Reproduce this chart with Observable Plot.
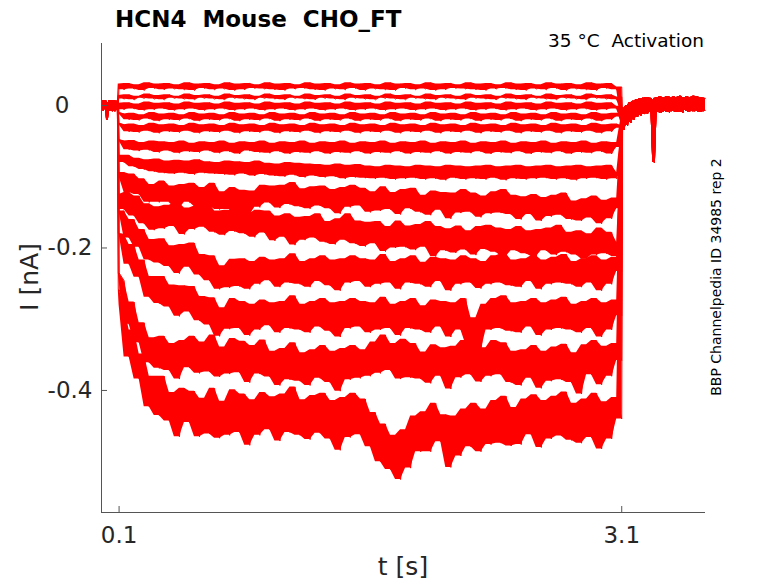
<!DOCTYPE html>
<html><head><meta charset="utf-8">
<script src="https://cdn.jsdelivr.net/npm/d3@7"></script>
<script src="https://cdn.jsdelivr.net/npm/@observablehq/plot@0.6"></script>
<style>body{margin:0;background:#fff;} svg text{font-family:"DejaVu Sans";}</style>
</head><body><div id="chart"></div>
<script>
// ---- text ----
const titleText = "HCN4  Mouse  CHO_FT";
const subtitleText = "35 °C  Activation";
const sideText = "BBP Channelpedia ID 34985 rep 2";
const xLabel = "t [s]";
const yLabel = "I [nA]";
const xTickValues = [0.1, 3.1];
const xTickLabels = ["0.1", "3.1"];
const yTickValues = [-0.4, -0.2, 0];
const yTickLabels = ["-0.4", "-0.2", "0"];
const xDomain = [-0.005, 3.6];
const yDomain = [-0.5713, 0.087];

// ---- sampling (s) ----
const stepStart = 0.1, stepDt = 0.03;          // voltage step 0.1 s .. 3.1 s
const preTimes = d3.range(20).map(i => i * 0.005);
const postTimes = d3.range(50).map(i => 3.105 + i * 0.01);

// ---- holding current before / after the step (pA) ----
const holdPreA = [3,-7,5,-5,7,-6,-20,-9,4,-7,6,-4,7,-6,4,-8,5,-5,6,-4];
const holdPreB = [-5,7,-4,6,-6,5,-12,3,-7,7,-5,5,-8,6,-4,7,-6,4,-7,5];
const holdPostA = [-28,-4,-25,0,-20,4,-16,6,-13,8,
  -11,9,-10,10,-11,11,-9,10,-10,-80,
  -8,11,-10,12,-9,11,-8,12,-10,10,
  -7,12,-9,11,-8,13,-10,11,-7,12,
  -9,11,-8,13,-7,12,-9,11,-8,10];
const holdPostB = [-12,-34,-10,-28,-8,-24,-5,-20,-2,-16,
  2,-14,4,-12,6,-11,8,-10,7,-9,
  10,-8,9,-10,11,-7,10,-9,12,-8,
  10,-7,11,-9,12,-8,10,-6,11,-8,
  9,-7,12,-8,10,-6,11,-9,10,-7];

// ---- step currents (pA), one array per sweep, sampled every 30 ms ----
const sweep1 = [30,22,31,23,29,21,32,24,30,22,
 31,23,29,22,32,21,30,24,31,22,
 29,23,32,21,30,22,31,24,29,23,
 32,22,30,21,31,23,29,24,32,22,
 30,21,31,23,29,22,32,24,30,21,
 31,23,29,22,32,21,30,24,31,22,
 29,23,32,21,30,22,31,24,29,23,
 32,22,30,21,31,23,29,24,32,22,
 30,21,31,23,29,22,32,24,30,21,
 31,23,29,22,32,21,30,24,31,22,26];
const sweep2 = [14,9,15,8,13,10,16,9,14,8,
 15,10,13,9,16,8,14,10,15,9,
 13,8,16,10,14,9,15,8,13,10,
 16,9,14,8,15,10,13,9,16,8,
 14,10,15,9,13,8,16,10,14,9,
 15,8,13,10,16,9,14,8,15,10,
 13,9,16,8,14,10,15,9,13,8,
 16,10,14,9,15,8,13,10,16,9,
 14,8,15,10,13,9,16,8,14,10,
 15,9,13,8,16,10,14,9,15,8,12];
const sweep3 = [3,-6,4,-5,2,-7,5,-6,3,-5,
 4,-7,2,-6,5,-5,3,-7,4,-6,
 2,-5,5,-7,3,-6,4,-5,2,-7,
 5,-6,3,-5,4,-7,2,-6,5,-5,
 3,-7,4,-6,2,-5,5,-7,3,-6,
 4,-5,2,-7,5,-6,3,-5,4,-7,
 2,-6,5,-5,3,-7,4,-6,2,-5,
 5,-7,3,-6,4,-5,2,-7,5,-6,
 3,-5,4,-7,2,-6,5,-5,3,-7,
 4,-6,2,-5,5,-7,3,-6,4,-5,-1];
const sweep4 = [-10,-12,-20,-11,-21,-13,-19,-10,-22,-12,
 -20,-11,-21,-13,-19,-10,-22,-12,-20,-11,
 -21,-13,-19,-10,-22,-12,-20,-11,-21,-13,
 -19,-10,-22,-12,-20,-11,-21,-13,-19,-10,
 -22,-12,-20,-11,-21,-13,-19,-10,-22,-12,
 -20,-11,-21,-13,-19,-10,-22,-12,-20,-11,
 -21,-13,-19,-10,-22,-12,-20,-11,-21,-13,
 -19,-10,-22,-12,-20,-11,-21,-13,-19,-10,
 -22,-12,-20,-11,-21,-13,-19,-10,-22,-12,
 -20,-11,-21,-13,-19,-10,-22,-12,-20,-11,-16];
const sweep5 = [-25,-27,-37,-26,-38,-28,-36,-25,-39,-27,
 -37,-26,-38,-28,-36,-25,-39,-27,-37,-26,
 -38,-28,-36,-25,-39,-27,-37,-26,-38,-28,
 -36,-25,-39,-27,-37,-26,-38,-28,-36,-25,
 -39,-27,-37,-26,-38,-28,-36,-25,-39,-27,
 -37,-26,-38,-28,-36,-25,-39,-27,-37,-26,
 -38,-28,-36,-25,-39,-27,-37,-26,-38,-28,
 -36,-25,-39,-27,-37,-26,-38,-28,-36,-25,
 -39,-27,-37,-26,-38,-28,-36,-25,-39,-27,
 -37,-26,-38,-28,-36,-25,-39,-27,-37,-26,-32];
const sweep6 = [-48,-50,-62,-49,-64,-52,-63,-50,-66,-51,
 -64,-52,-67,-50,-65,-53,-66,-51,-64,-52,
 -67,-50,-65,-53,-68,-51,-64,-52,-66,-50,
 -67,-53,-65,-51,-68,-52,-66,-50,-67,-53,
 -65,-51,-68,-52,-66,-50,-67,-53,-65,-51,
 -68,-52,-66,-50,-67,-53,-65,-51,-68,-52,
 -66,-50,-67,-53,-65,-51,-68,-52,-66,-50,
 -67,-53,-65,-51,-68,-52,-66,-50,-67,-53,
 -65,-51,-68,-52,-66,-50,-67,-53,-65,-51,
 -68,-52,-66,-50,-67,-53,-65,-51,-68,-52,-59];
const sweep7 = [-70,-80,-70,-86,-74,-90,-76,-93,-75,-95,
 -78,-96,-77,-95,-78,-97,-76,-95,-79,-96,
 -80,-97,-78,-98,-79,-96,-80,-99,-78,-97,
 -81,-99,-82,-100,-80,-98,-81,-101,-82,-99,
 -83,-101,-84,-100,-82,-103,-84,-101,-83,-102,
 -85,-103,-86,-102,-84,-104,-85,-103,-86,-102,
 -84,-104,-85,-103,-86,-105,-84,-102,-85,-104,
 -86,-103,-85,-104,-84,-102,-86,-105,-85,-103,
 -84,-104,-86,-103,-85,-102,-84,-104,-86,-103,
 -85,-105,-84,-103,-86,-102,-85,-104,-84,-103,-94];
const sweep8 = [-100,-94,-122,-96,-125,-103,-136,-111,-136,-106,
 -136,-113,-145,-111,-136,-109,-142,-115,-141,-109,
 -146,-121,-146,-115,-146,-119,-154,-120,-143,-112,
 -137,-113,-144,-112,-139,-108,-142,-117,-145,-114,
 -141,-113,-145,-118,-152,-115,-143,-112,-141,-116,
 -150,-121,-148,-114,-146,-122,-153,-118,-145,-116,
 -150,-126,-154,-120,-147,-122,-159,-123,-151,-118,
 -150,-123,-157,-127,-152,-121,-151,-118,-153,-126,
 -160,-128,-153,-125,-162,-129,-156,-126,-154,-123,
 -160,-134,-162,-131,-158,-127,-166,-133,-159,-130,-145];
const sweep9 = [-125,-146,-122,-155,-127,-166,-138,-175,-142,-173,
 -140,-170,-137,-181,-144,-174,-141,-171,-138,-178,
 -148,-182,-147,-177,-140,-180,-152,-185,-147,-179,
 -148,-190,-155,-185,-152,-196,-157,-189,-156,-186,
 -152,-192,-163,-195,-159,-189,-152,-194,-162,-198,
 -164,-194,-163,-205,-170,-200,-162,-199,-169,-203,
 -167,-199,-163,-212,-170,-204,-173,-207,-169,-203,
 -176,-210,-170,-202,-168,-206,-172,-212,-174,-204,
 -170,-208,-176,-212,-174,-204,-172,-210,-168,-206,
 -178,-210,-176,-216,-180,-210,-172,-208,-178,-212,-192];
const sweep10 = [-150,-148,-186,-160,-199,-174,-217,-188,-221,-187,
 -226,-197,-236,-195,-227,-193,-238,-209,-246,-211,
 -258,-225,-256,-216,-254,-215,-258,-219,-251,-213,
 -246,-217,-255,-215,-249,-208,-251,-219,-255,-215,
 -247,-211,-253,-217,-260,-215,-249,-211,-247,-215,
 -255,-217,-251,-209,-249,-219,-258,-215,-249,-211,
 -251,-220,-255,-213,-247,-215,-260,-217,-251,-211,
 -249,-215,-257,-219,-251,-211,-249,-208,-253,-217,
 -255,-215,-247,-211,-258,-217,-251,-213,-249,-209,
 -251,-219,-255,-215,-249,-211,-260,-217,-251,-213,-233];
const sweep11 = [-180,-181,-223,-195,-241,-217,-269,-240,-278,-240,
 -283,-252,-296,-253,-290,-254,-302,-268,-308,-270,
 -324,-284,-314,-271,-313,-275,-323,-279,-315,-273,
 -309,-277,-319,-275,-313,-267,-315,-279,-319,-275,
 -311,-271,-317,-277,-325,-275,-313,-271,-311,-275,
 -319,-277,-315,-269,-313,-279,-323,-275,-313,-271,
 -315,-281,-319,-273,-311,-275,-325,-277,-315,-271,
 -336,-298,-344,-279,-315,-271,-313,-267,-317,-277,
 -319,-275,-311,-271,-323,-277,-315,-273,-313,-269,
 -315,-279,-319,-275,-313,-271,-325,-277,-315,-273,-295];
const sweep12 = [-235,-246,-307,-276,-333,-305,-361,-326,-369,-324,
 -372,-334,-384,-330,-368,-324,-376,-332,-374,-322,
 -381,-339,-377,-327,-375,-331,-389,-337,-377,-329,
 -381,-345,-393,-341,-385,-333,-387,-347,-393,-343,
 -383,-337,-389,-345,-401,-341,-385,-337,-383,-343,
 -380,-332,-376,-322,-372,-334,-384,-328,-382,-334,
 -384,-346,-390,-336,-380,-340,-398,-338,-382,-330,
 -378,-334,-388,-340,-380,-330,-378,-333,-389,-345,
 -393,-343,-383,-337,-397,-345,-387,-339,-385,-335,
 -389,-347,-405,-336,-378,-330,-392,-338,-380,-334,-358];
const sweep13 = [-258,-280,-353,-315,-384,-349,-423,-380,-435,-380,
 -443,-403,-465,-397,-445,-401,-465,-411,-461,-397,
 -467,-415,-463,-399,-459,-405,-477,-413,-463,-403,
 -455,-409,-471,-405,-459,-395,-463,-413,-469,-407,
 -460,-404,-468,-414,-484,-410,-466,-404,-462,-412,
 -479,-431,-500,-447,-511,-463,-525,-455,-509,-436,
 -486,-430,-486,-418,-472,-434,-508,-436,-492,-426,
 -479,-418,-486,-426,-476,-414,-474,-408,-478,-424,
 -476,-412,-462,-406,-480,-414,-468,-408,-464,-402,
 -470,-418,-474,-412,-466,-404,-482,-416,-468,-410,-440];

const sweeps = [sweep1, sweep2, sweep3, sweep4, sweep5, sweep6, sweep7,
                sweep8, sweep9, sweep10, sweep11, sweep12, sweep13];

// ---- build table ----
const rows = [];
sweeps.forEach((vals, k) => {
  const pre = k % 2 ? holdPreB : holdPreA;
  const post = k % 2 ? holdPostB : holdPostA;
  pre.forEach((v, i) => rows.push({sweep: k, t: preTimes[i], I: v / 1000}));
  vals.forEach((v, i) => rows.push({sweep: k, t: stepStart + stepDt * i, I: v / 1000}));
  post.forEach((v, i) => rows.push({sweep: k, t: postTimes[i], I: v / 1000}));
});

const axisColor = "#262626";
const traceColor = "#ff0000";
const fmtY = d => yTickLabels[yTickValues.indexOf(d)];
const fmtX = d => xTickLabels[xTickValues.indexOf(d)];

const chart = Plot.plot({
  width: 778, height: 583,
  marginLeft: 101, marginRight: 73, marginTop: 43, marginBottom: 71,
  style: {fontFamily: "DejaVu Sans", background: "white", color: axisColor},
  x: {domain: xDomain},
  y: {domain: yDomain},
  marks: [
    // noise envelope of each sweep (running min / max of the samples)
    Plot.areaY(rows, Plot.map(
      {y1: Plot.window({k: 2, anchor: "start", reduce: "min"}),
       y2: Plot.window({k: 2, anchor: "start", reduce: "max"})},
      {x: "t", y1: "I", y2: "I", z: "sweep", fill: traceColor})),
    Plot.line(rows, {x: "t", y: "I", z: "sweep", stroke: traceColor, strokeWidth: 1}),
    Plot.ruleX([xDomain[0]], {stroke: "#555"}),
    Plot.ruleY([yDomain[0]], {stroke: "#555"}),
    Plot.axisY(yTickValues.filter(d => d !== 0), {anchor: "left", tickSize: -6, tickPadding: 15,
      tickFormat: fmtY, fontSize: 23, label: null, stroke: "#555", fill: axisColor}),
    Plot.axisY([0], {anchor: "left", tickSize: -6, tickPadding: 38,
      tickFormat: fmtY, fontSize: 23, label: null, stroke: "#555", fill: axisColor}),
    Plot.axisX(xTickValues, {anchor: "bottom", tickSize: -6, tickPadding: 20,
      tickFormat: fmtX, fontSize: 23, label: null, stroke: "#555", fill: axisColor})
  ]
});

const svg = d3.select(chart);
svg.append("text").attr("x", 115).attr("y", 27).attr("text-anchor", "start")
  .attr("font-size", 23).attr("font-weight", "bold").attr("fill", "#000")
  .style("white-space", "pre").text(titleText);
svg.append("text").attr("x", 704).attr("y", 47).attr("text-anchor", "end")
  .attr("font-size", 18.5).attr("fill", "#000")
  .style("white-space", "pre").text(subtitleText);
svg.append("text").attr("transform", "translate(721,277) rotate(-90)")
  .attr("text-anchor", "middle").attr("font-size", 14).attr("fill", "#000")
  .text(sideText);
svg.append("text").attr("transform", "translate(38,277) rotate(-90)")
  .attr("text-anchor", "middle").attr("font-size", 25).attr("fill", axisColor)
  .text(yLabel);
svg.append("text").attr("x", 403).attr("y", 575)
  .attr("text-anchor", "middle").attr("font-size", 25).attr("fill", axisColor)
  .text(xLabel);

document.getElementById("chart").appendChild(chart);
</script></body></html>
